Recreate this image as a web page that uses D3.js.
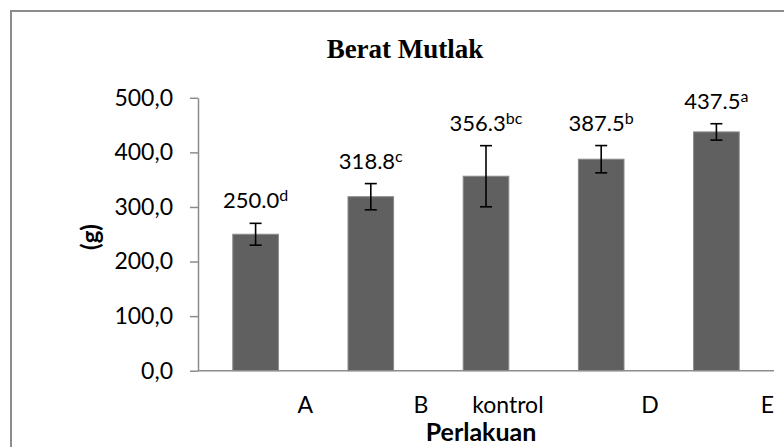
<!DOCTYPE html>
<html>
<head>
<meta charset="utf-8">
<script src="https://cdn.jsdelivr.net/npm/d3@7"></script>
<style>
  html, body { margin: 0; padding: 0; background: #fff; }
  svg { display: block; }
</style>
</head>
<body>
<div id="chart"></div>
<script>
// Datos del gráfico
const categories = ["A", "B", "kontrol", "D", "E"];
const values = [250.0, 318.8, 356.3, 387.5, 437.5];
const errors = [20, 24, 56, 25, 15];
const letters = ["d", "c", "bc", "b", "a"];
const yTicks = [0, 100, 200, 300, 400, 500];

const width = 784, height = 447;
const sans = "Lato, 'Open Sans', sans-serif";

const svg = d3.select("#chart").append("svg")
  .attr("width", width)
  .attr("height", height);

// Marco exterior
svg.append("rect")
  .attr("x", 11).attr("y", 11)
  .attr("width", 800).attr("height", 460)
  .attr("fill", "none")
  .attr("stroke", "#8c8c8c")
  .attr("stroke-width", 2);

// Escalas
const x = d3.scaleBand()
  .domain(categories)
  .range([198, 774])
  .paddingInner(0.604)
  .paddingOuter(0.302);

const y = d3.scaleLinear()
  .domain([0, 500])
  .range([370.7, 97.8]);

const step = x.step();

// Título
svg.append("text")
  .attr("x", 405).attr("y", 58)
  .attr("text-anchor", "middle")
  .attr("font-family", "'Liberation Serif', 'Times New Roman', serif")
  .attr("font-weight", "bold")
  .attr("font-size", 27)
  .attr("fill", "#000")
  .text("Berat Mutlak");

// Eje Y
const yAxis = svg.append("g")
  .attr("transform", "translate(198,0)")
  .call(d3.axisLeft(y)
    .tickValues(yTicks)
    .tickSize(8)
    .tickSizeOuter(0)
    .tickPadding(17)
    .tickFormat(d => d3.format(".1f")(d).replace(".", ",")));

yAxis.select(".domain").attr("stroke", "#8c8c8c").attr("stroke-width", 1.5);
yAxis.selectAll(".tick line").attr("stroke", "#8c8c8c").attr("stroke-width", 1.5);
yAxis.selectAll(".tick text")
  .attr("font-family", sans)
  .attr("font-size", 23)
  .attr("fill", "#000");

svg.append("text")
  .attr("transform", "translate(99,237) rotate(-90)")
  .attr("text-anchor", "middle")
  .attr("font-family", sans)
  .attr("font-weight", "bold")
  .attr("font-size", 24)
  .attr("fill", "#000")
  .text("(g)");

// Barras
svg.append("g")
  .selectAll("rect")
  .data(categories)
  .join("rect")
  .attr("x", d => x(d))
  .attr("y", (d, i) => y(values[i]))
  .attr("width", x.bandwidth())
  .attr("height", (d, i) => y(0) - y(values[i]))
  .attr("fill", "#606060")
  .attr("stroke", "#8a8a8a")
  .attr("stroke-width", 1);

// Eje X
svg.append("line")
  .attr("x1", 198).attr("x2", 774)
  .attr("y1", y(0)).attr("y2", y(0))
  .attr("stroke", "#8c8c8c")
  .attr("stroke-width", 1.5);

// Barras de error
const err = svg.append("g")
  .attr("stroke", "#000")
  .attr("stroke-width", 1.6)
  .selectAll("g")
  .data(categories)
  .join("g")
  .attr("transform", d => `translate(${x(d) + x.bandwidth() / 2},0)`);

err.append("line")
  .attr("y1", (d, i) => y(values[i] - errors[i]))
  .attr("y2", (d, i) => y(values[i] + errors[i]));
err.append("line")
  .attr("x1", -6).attr("x2", 6)
  .attr("y1", (d, i) => y(values[i] + errors[i]))
  .attr("y2", (d, i) => y(values[i] + errors[i]));
err.append("line")
  .attr("x1", -6).attr("x2", 6)
  .attr("y1", (d, i) => y(values[i] - errors[i]))
  .attr("y2", (d, i) => y(values[i] - errors[i]));

// Etiquetas de valor con letra en superíndice
const lab = svg.append("g")
  .selectAll("text")
  .data(categories)
  .join("text")
  .attr("x", d => x(d) + x.bandwidth() / 2)
  .attr("y", (d, i) => y(values[i] + errors[i]) - 15)
  .attr("text-anchor", "middle")
  .attr("font-family", sans)
  .attr("font-size", 22)
  .attr("fill", "#000");

lab.append("tspan").text((d, i) => d3.format(".1f")(values[i]));
lab.append("tspan")
  .attr("font-size", 16)
  .attr("dy", -7)
  .text((d, i) => letters[i]);

// Etiquetas de categoría (alineadas al borde derecho de cada banda)
svg.append("g")
  .selectAll("text")
  .data(categories)
  .join("text")
  .attr("x", d => x(d) + x.bandwidth() / 2 + step / 2)
  .attr("y", 413)
  .attr("text-anchor", "end")
  .attr("font-family", sans)
  .attr("font-size", 23)
  .attr("fill", "#000")
  .text(d => d);

svg.append("text")
  .attr("x", 481).attr("y", 441)
  .attr("text-anchor", "middle")
  .attr("font-family", sans)
  .attr("font-weight", "bold")
  .attr("font-size", 25)
  .attr("fill", "#000")
  .text("Perlakuan");
</script>
</body>
</html>
